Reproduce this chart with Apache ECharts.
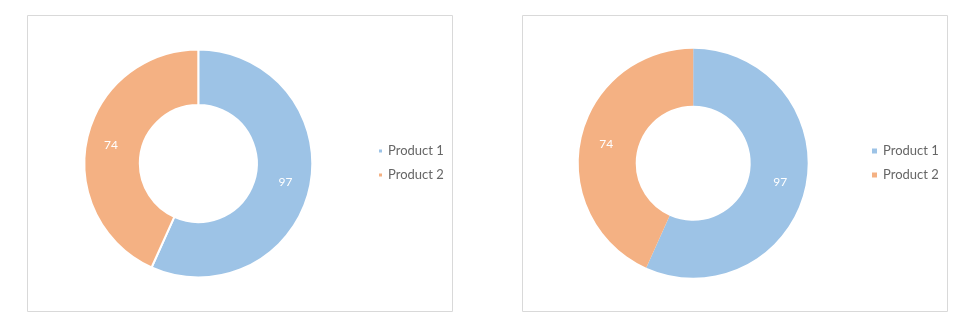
<!DOCTYPE html>
<html><head><meta charset="utf-8">
<script src="https://cdn.jsdelivr.net/npm/echarts@6/dist/echarts.min.js"></script>
<style>html,body{margin:0;padding:0;background:#fff}#c{width:980px;height:334px}</style>
</head><body><div id="c"></div>
<script>
const categories = ['Product 1', 'Product 2'];
const leftValues = [97, 74];
const rightValues = [97, 74];
const colors = ['#9DC3E6', '#F4B183'];

const chart = echarts.init(document.getElementById('c'), null, {renderer: 'canvas'});
const mk = (vals) => categories.map((n, i) => ({name: n, value: vals[i]}));
const font = 'Lato, "Open Sans", sans-serif';
const labelCfg = {show: true, position: 'inside', formatter: '{c}', color: '#ffffff', fontSize: 12, fontFamily: font};

chart.setOption({
  animation: false,
  color: colors,
  graphic: [
    {type: 'rect', shape: {x: 27.5, y: 15.5, width: 425, height: 296}, style: {fill: 'none', stroke: '#D9D9D9', lineWidth: 1}, z: -1},
    {type: 'rect', shape: {x: 522.5, y: 15.5, width: 425, height: 296}, style: {fill: 'none', stroke: '#D9D9D9', lineWidth: 1}, z: -1}
  ],
  legend: [
    {orient: 'vertical', left: 377, top: 144, padding: 0, itemWidth: 5, itemHeight: 5, itemGap: 10, icon: 'rect',
     data: categories, textStyle: {color: '#666666', fontSize: 13, fontFamily: font, lineHeight: 14}, selectedMode: false},
    {orient: 'vertical', left: 870, top: 144, padding: 0, itemWidth: 7, itemHeight: 7, itemGap: 10, icon: 'rect',
     data: categories, textStyle: {color: '#666666', fontSize: 13, fontFamily: font, lineHeight: 14}, selectedMode: false}
  ],
  series: [
    {type: 'pie', center: [198.3, 163.5], radius: [58.5, 114], startAngle: 90, clockwise: true,
     data: mk(leftValues), label: labelCfg, labelLine: {show: false},
     itemStyle: {borderColor: '#ffffff', borderWidth: 2}, emphasis: {disabled: true}},
    {type: 'pie', center: [693.2, 163.2], radius: [57.5, 114.5], startAngle: 90, clockwise: true,
     data: mk(rightValues), label: labelCfg, labelLine: {show: false},
     itemStyle: {borderWidth: 0}, emphasis: {disabled: true}}
  ]
});
</script></body></html>
